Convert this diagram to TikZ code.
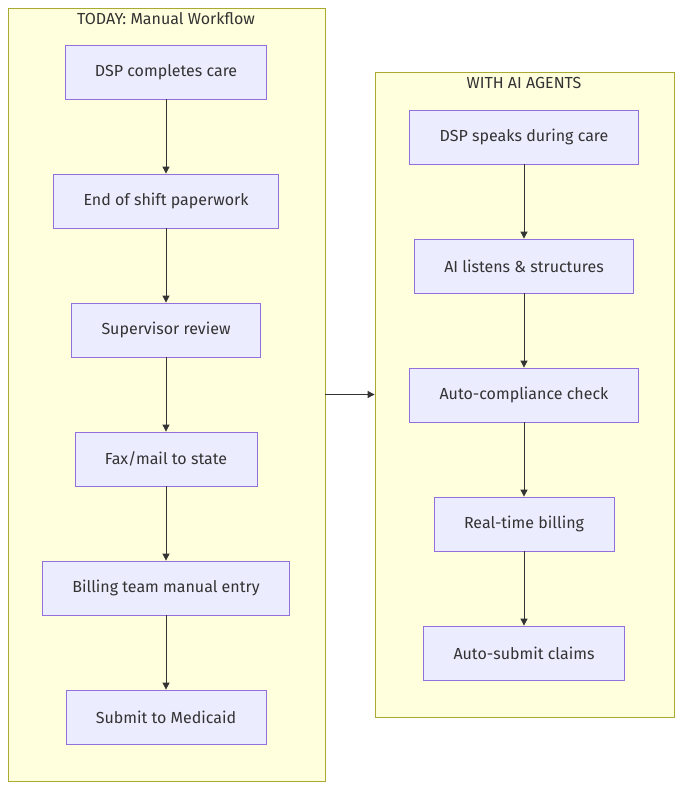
\documentclass[tikz,border=0pt]{standalone}
\usepackage{fontspec}
\setmainfont{Fira Sans}
\usetikzlibrary{arrows.meta}
\definecolor{boxfill}{HTML}{ECECFF}
\definecolor{boxline}{HTML}{9370DB}
\definecolor{grpfill}{HTML}{FFFFDE}
\definecolor{grpline}{HTML}{AAAA33}
\definecolor{ink}{HTML}{333333}
\tikzset{
  stepbox/.style={draw=boxline, fill=boxfill, line width=0.8pt, inner sep=0pt,
    minimum height=54pt, text=ink, font=\fontsize{16}{19}\selectfont},
  groupbox/.style={draw=grpline, fill=grpfill, line width=0.8pt, inner sep=0pt},
  grouptitle/.style={text=ink, font=\fontsize{16}{19}\selectfont, inner sep=0pt},
  flow/.style={draw=ink, line width=0.8pt, -{Triangle[length=7pt,width=7pt]}}
}
\begin{document}
\begin{tikzpicture}[x=1pt,y=-1pt]
  \useasboundingbox (0,0) rectangle (682,790);
  % groups
  \node[groupbox, minimum width=317pt, minimum height=773pt] (today) at (166.5,394.5) {};
  \node[groupbox, minimum width=299pt, minimum height=645pt] (agents) at (524.5,394.5) {};
  \node[grouptitle] (todaytitle) at (166,19) {TODAY: Manual Workflow};
  \node[grouptitle] (agentstitle) at (524,83) {WITH AI AGENTS};
  % manual workflow
  \node[stepbox, minimum width=201pt] (care) at (166,72) {DSP completes care};
  \node[stepbox, minimum width=225pt] (paper) at (166,201) {End of shift paperwork};
  \node[stepbox, minimum width=189pt] (review) at (166,330) {Supervisor review};
  \node[stepbox, minimum width=182pt] (fax) at (166,459) {Fax/mail to state};
  \node[stepbox, minimum width=247pt] (entry) at (166,588) {Billing team manual entry};
  \node[stepbox, minimum width=200pt] (submit) at (166,717) {Submit to Medicaid};
  % with agents
  \node[stepbox, minimum width=229pt] (speak) at (524,137) {DSP speaks during care};
  \node[stepbox, minimum width=219pt] (listen) at (524,266) {AI listens \& structures};
  \node[stepbox, minimum width=229pt] (check) at (524,395) {Auto-compliance check};
  \node[stepbox, minimum width=180pt] (billing) at (524,524) {Real-time billing};
  \node[stepbox, minimum width=201pt] (claims) at (524,653) {Auto-submit claims};
  % connectors
  \draw[flow] (care) -- (paper);
  \draw[flow] (paper) -- (review);
  \draw[flow] (review) -- (fax);
  \draw[flow] (fax) -- (entry);
  \draw[flow] (entry) -- (submit);
  \draw[flow] (speak) -- (listen);
  \draw[flow] (listen) -- (check);
  \draw[flow] (check) -- (billing);
  \draw[flow] (billing) -- (claims);
  \draw[flow] (today) -- (agents);
\end{tikzpicture}
\end{document}
